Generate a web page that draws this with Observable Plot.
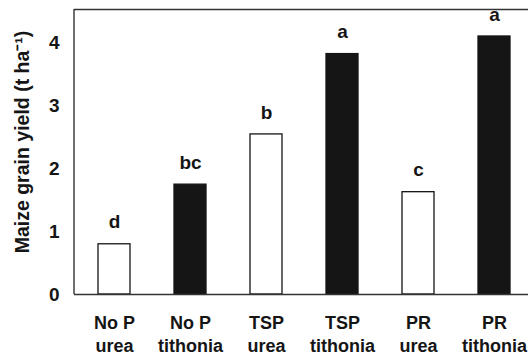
<!DOCTYPE html>
<html>
<head>
<meta charset="utf-8">
<script src="https://cdn.jsdelivr.net/npm/d3@7"></script>
<script src="https://cdn.jsdelivr.net/npm/@observablehq/plot@0.6"></script>
<style>
  html, body { margin: 0; padding: 0; background: #fff; overflow: hidden; }
  svg { font-family: "Liberation Sans", Arial, sans-serif; }
</style>
</head>
<body>
<div id="chart"></div>
<script>
const phosphorus = ["No P", "No P", "TSP", "TSP", "PR", "PR"];
const nitrogen = ["urea", "tithonia", "urea", "tithonia", "urea", "tithonia"];
const yields = [0.80, 1.75, 2.55, 3.83, 1.63, 4.11];
const letters = ["d", "bc", "b", "a", "c", "a"];
const yTicks = [0, 1, 2, 3, 4];
const yLabel = "Maize grain yield (t ha\u207B\u00B9)";
const yMax = 4.54;

const data = phosphorus.map((p, i) => ({
  id: p + " " + nitrogen[i],
  p,
  n: nitrogen[i],
  y: yields[i],
  letter: letters[i]
}));
const ids = data.map(d => d.id);

const ink = "#151515";
const fontBold = {fontSize: 18, fontWeight: "bold", fill: ink};

const chart = Plot.plot({
  width: 528,
  height: 356,
  marginLeft: 74,
  marginRight: 0,
  marginTop: 9,
  marginBottom: 62,
  style: {background: "#fff", color: ink},
  x: {domain: ids, range: [74, 534], paddingInner: 0.58, paddingOuter: 0.301, axis: null},
  y: {domain: [0, yMax], axis: null},
  marks: [
    Plot.barY(data, {
      x: "id", y: "y",
      fill: d => d.n === "tithonia" ? ink : "#fff",
      stroke: ink, strokeWidth: 1.3
    }),
    Plot.ruleY([0, yMax], {stroke: "#333", strokeWidth: 1.4}),
    Plot.axisY({ticks: yTicks, tickFormat: "d", tickSize: 0, tickPadding: 15, label: null, fontSize: 19, fontWeight: "bold", fill: ink}),
    Plot.text(data, {x: "id", y: "y", text: "letter", dy: -22, ...fontBold, fontSize: 19}),
    Plot.text(data, {x: "id", y: () => 0, text: "p", dy: 29, ...fontBold}),
    Plot.text(data, {x: "id", y: () => 0, text: "n", dy: 52, ...fontBold}),
    Plot.text([yLabel], {frameAnchor: "left", textAnchor: "middle", text: d => d, rotate: -90, dx: -52, dy: -10, ...fontBold, fontSize: 19.5})
  ]
});

// left frame line along the y axis
d3.select(chart).append("line")
  .attr("x1", 74).attr("x2", 74).attr("y1", 9).attr("y2", 294)
  .attr("stroke", "#333").attr("stroke-width", 1.4);

document.getElementById("chart").appendChild(chart);
</script>
</body>
</html>
